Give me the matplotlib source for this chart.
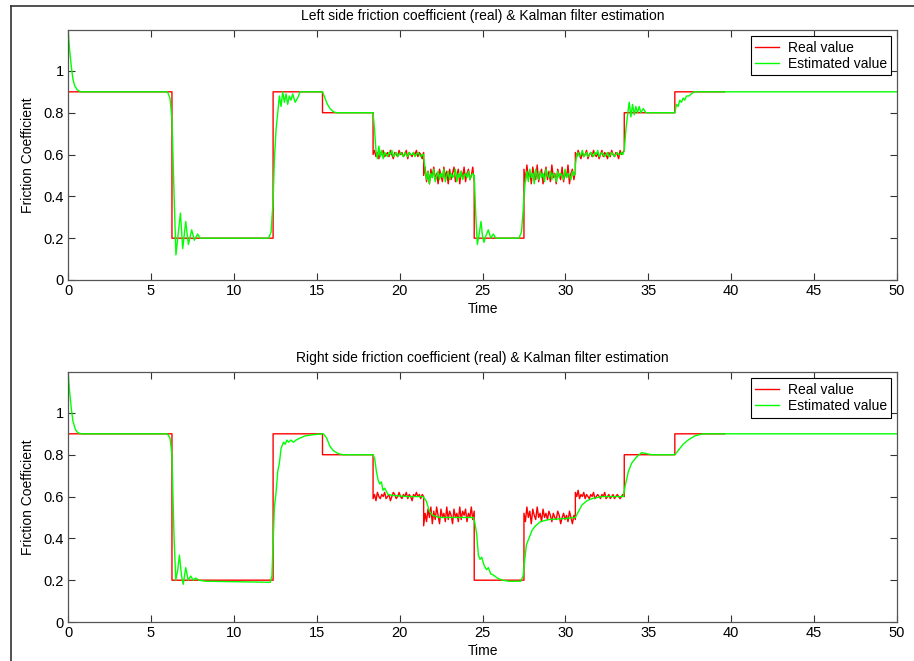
"""Friction coefficient (real) vs Kalman filter estimate, left and right side."""
import numpy as np
import matplotlib
matplotlib.use("Agg")
import matplotlib.pyplot as plt
from matplotlib.lines import Line2D

# step times of the real friction coefficient, shared by both sides
steps = [0, 6.27, 12.37, 15.35, 18.4, 21.45, 24.5, 27.5, 30.6, 33.55, 36.6, 39.6]
levels = [0.9, 0.2, 0.9, 0.8, 0.6, 0.5, 0.2, 0.5, 0.6, 0.8, 0.9]

# noisy stretches of the real value (segment index -> samples)
red_top_06a = [0.60, 0.62, 0.59, 0.61, 0.58, 0.61, 0.60, 0.62, 0.59, 0.60, 0.61, 0.59,
               0.62, 0.60, 0.58, 0.61, 0.60, 0.59, 0.62, 0.60, 0.61, 0.59, 0.60, 0.62,
               0.58, 0.61, 0.60, 0.59, 0.61, 0.60, 0.62, 0.59, 0.61, 0.60, 0.58, 0.61]
red_top_05a = [0.50, 0.54, 0.47, 0.52, 0.46, 0.53, 0.49, 0.54, 0.48, 0.51, 0.46, 0.53,
               0.50, 0.47, 0.54, 0.49, 0.52, 0.46, 0.53, 0.48, 0.51, 0.54, 0.47, 0.50,
               0.53, 0.46, 0.52, 0.49, 0.54, 0.47, 0.51, 0.53, 0.48, 0.50, 0.54, 0.47]
red_top_05b = [0.53, 0.47, 0.55, 0.49, 0.52, 0.46, 0.54, 0.50, 0.48, 0.55, 0.47, 0.51,
               0.53, 0.46, 0.50, 0.54, 0.48, 0.52, 0.47, 0.55, 0.49, 0.51, 0.46, 0.53,
               0.50, 0.48, 0.54, 0.47, 0.52, 0.49, 0.55, 0.46, 0.51, 0.53, 0.48, 0.52]
red_top_06b = [0.61, 0.59, 0.62, 0.60, 0.58, 0.61, 0.59, 0.60, 0.62, 0.58, 0.60, 0.61,
               0.59, 0.62, 0.60, 0.59, 0.61, 0.58, 0.60, 0.62, 0.59, 0.61, 0.60, 0.58,
               0.61, 0.59, 0.62, 0.60, 0.59, 0.61, 0.60, 0.58, 0.62, 0.60, 0.61, 0.62]
red_bot_06a = [0.59, 0.61, 0.58, 0.62, 0.60, 0.59, 0.61, 0.60, 0.62, 0.59, 0.60, 0.61,
               0.58, 0.60, 0.62, 0.61, 0.59, 0.60, 0.62, 0.60, 0.59, 0.61, 0.60, 0.62,
               0.59, 0.61, 0.60, 0.58, 0.61, 0.60, 0.62, 0.60, 0.61, 0.59, 0.61, 0.60]
red_bot_05a = [0.46, 0.52, 0.48, 0.54, 0.50, 0.55, 0.47, 0.53, 0.49, 0.55, 0.51, 0.47,
               0.54, 0.50, 0.52, 0.48, 0.55, 0.49, 0.53, 0.51, 0.47, 0.54, 0.50, 0.52,
               0.48, 0.55, 0.49, 0.53, 0.51, 0.54, 0.48, 0.52, 0.50, 0.55, 0.49, 0.53]
red_bot_05b = [0.52, 0.48, 0.55, 0.50, 0.53, 0.47, 0.54, 0.51, 0.49, 0.55, 0.50, 0.52,
               0.48, 0.54, 0.50, 0.52, 0.49, 0.53, 0.51, 0.48, 0.52, 0.50, 0.49, 0.53,
               0.51, 0.47, 0.50, 0.52, 0.49, 0.51, 0.48, 0.53, 0.50, 0.47, 0.51, 0.49]
red_bot_06b = [0.62, 0.60, 0.63, 0.59, 0.61, 0.60, 0.62, 0.59, 0.61, 0.60, 0.59, 0.61,
               0.60, 0.62, 0.59, 0.60, 0.61, 0.60, 0.59, 0.61, 0.60, 0.62, 0.59, 0.60,
               0.61, 0.59, 0.60, 0.61, 0.59, 0.60, 0.61, 0.60, 0.59, 0.60, 0.61, 0.60]
noisy_top = {4: red_top_06a, 5: red_top_05a, 7: red_top_05b, 8: red_top_06b}
noisy_bot = {4: red_bot_06a, 5: red_bot_05a, 7: red_bot_05b, 8: red_bot_06b}

# estimated value, left side: smooth parts as (t, v), noisy parts as samples
gl_t1 = [0, 0.1, 0.2, 0.3, 0.4, 0.55, 0.75, 6.0, 6.15, 6.27, 6.33, 6.4, 6.51,
         6.78, 6.92, 7.1, 7.26, 7.46, 7.62, 7.82, 7.96, 8.3, 12.1, 12.25, 12.37,
         12.45, 12.55, 12.65, 12.75, 12.85, 12.95, 13.05, 13.15, 13.25, 13.35, 13.45,
         13.55, 13.7, 13.85, 14.0, 14.2, 15.35, 15.5, 15.65, 15.8, 16.0, 16.2, 18.35]
gl_v1 = [1.2, 1.1, 1.02, 0.96, 0.93, 0.91, 0.9, 0.9, 0.87, 0.77, 0.6, 0.4, 0.12,
         0.32, 0.15, 0.28, 0.17, 0.24, 0.19, 0.22, 0.2, 0.2, 0.2, 0.23, 0.38,
         0.58, 0.72, 0.8, 0.88, 0.83, 0.9, 0.85, 0.89, 0.84, 0.88, 0.86,
         0.89, 0.85, 0.87, 0.9, 0.9, 0.9, 0.87, 0.84, 0.82, 0.805, 0.8, 0.8]
gl_06a = [0.80, 0.72, 0.62, 0.58, 0.64, 0.59, 0.62, 0.58, 0.61, 0.60, 0.59, 0.61,
          0.60, 0.62, 0.59, 0.60, 0.61, 0.59, 0.60, 0.61, 0.60, 0.59, 0.61, 0.60,
          0.59, 0.61, 0.60, 0.60, 0.61, 0.59, 0.60, 0.61, 0.60, 0.59, 0.60, 0.60]
gl_05a = [0.59, 0.53, 0.48, 0.52, 0.46, 0.51, 0.49, 0.53, 0.47, 0.50, 0.52, 0.48,
          0.51, 0.49, 0.53, 0.47, 0.50, 0.52, 0.48, 0.51, 0.49, 0.50, 0.53, 0.47,
          0.51, 0.49, 0.52, 0.48, 0.50, 0.51, 0.49, 0.52, 0.48, 0.50, 0.51, 0.49]
gl_t2 = [24.5, 24.6, 24.69, 24.8, 24.91, 25.0, 25.09, 25.2, 25.35, 25.5, 25.65,
         25.8, 25.95, 27.2, 27.35, 27.45]
gl_v2 = [0.5, 0.3, 0.17, 0.22, 0.28, 0.21, 0.18, 0.21, 0.24, 0.2, 0.22,
         0.2, 0.2, 0.2, 0.23, 0.33]
gl_05b = [0.40, 0.48, 0.52, 0.47, 0.53, 0.49, 0.51, 0.46, 0.53, 0.50, 0.48, 0.52,
          0.49, 0.51, 0.47, 0.53, 0.50, 0.49, 0.52, 0.48, 0.51, 0.50, 0.47, 0.52,
          0.49, 0.51, 0.50, 0.48, 0.53, 0.49, 0.51, 0.50, 0.48, 0.52, 0.50, 0.51]
gl_06b = [0.55, 0.60, 0.61, 0.59, 0.60, 0.62, 0.59, 0.60, 0.61, 0.59, 0.60, 0.61,
          0.60, 0.59, 0.61, 0.60, 0.62, 0.59, 0.60, 0.61, 0.60, 0.59, 0.60, 0.61,
          0.59, 0.60, 0.61, 0.60, 0.59, 0.60, 0.61, 0.60, 0.60, 0.61, 0.60, 0.62]
gl_t3 = [33.55, 33.65, 33.75, 33.85, 33.95, 34.05, 34.15, 34.25, 34.35, 34.45, 34.55,
         34.7, 34.85, 35.0, 36.6, 36.7, 36.8, 36.9, 37.0, 37.1, 37.2, 37.3, 37.45,
         37.6, 37.75, 50]
gl_v3 = [0.62, 0.72, 0.79, 0.85, 0.78, 0.84, 0.79, 0.83, 0.80, 0.83, 0.80,
         0.82, 0.80, 0.80, 0.80, 0.84, 0.83, 0.86, 0.85, 0.87, 0.86, 0.88, 0.88,
         0.89, 0.9, 0.9]

# estimated value, right side (smooth all the way)
gr_t = [0, 0.1, 0.2, 0.3, 0.45, 0.6, 0.8, 6.0, 6.15, 6.27, 6.33, 6.4, 6.5, 6.62,
        6.72, 6.85, 6.95, 7.1, 7.25, 7.4, 7.55, 7.7, 7.9, 8.3, 12.2, 12.3, 12.37,
        12.45, 12.55, 12.65, 12.75, 12.85, 13.0, 13.1, 13.2, 13.3, 13.45, 13.6,
        13.75, 14.0, 14.3, 14.7, 15.3, 15.4, 15.6, 15.8, 16.0, 16.3, 16.6, 18.4,
        18.5, 18.6, 18.7, 18.8, 18.9, 19.0, 19.1, 19.3, 19.6, 20.5, 21.4, 21.6,
        21.8, 22.0, 22.4, 24.45, 24.55, 24.65, 24.75, 24.85, 24.95, 25.1, 25.25,
        25.35, 25.5, 25.65, 25.9, 26.2, 26.6, 27.3, 27.45, 27.55, 27.65, 27.8,
        28.0, 28.2, 28.5, 29.0, 30.0, 30.6, 30.8, 31.0, 31.3, 31.6, 32.2, 33.5,
        33.6, 33.8, 34.0, 34.3, 34.6, 35.2, 36.6, 36.8, 37.1, 37.4, 37.8, 38.3, 50]
gr_v = [1.2, 1.1, 1.02, 0.96, 0.92, 0.905, 0.9, 0.9, 0.88, 0.8, 0.6, 0.4, 0.2, 0.25,
        0.32, 0.22, 0.18, 0.26, 0.2, 0.22, 0.2, 0.21, 0.2, 0.195, 0.19, 0.22, 0.38,
        0.55, 0.62, 0.72, 0.76, 0.83, 0.86, 0.85, 0.87, 0.86, 0.87, 0.86,
        0.87, 0.88, 0.89, 0.895, 0.9, 0.9, 0.88, 0.84, 0.82, 0.805, 0.8, 0.8,
        0.78, 0.72, 0.68, 0.66, 0.67, 0.63, 0.64, 0.61, 0.605, 0.6, 0.6, 0.58,
        0.53, 0.51, 0.5, 0.5, 0.47, 0.42, 0.32, 0.3, 0.31, 0.27, 0.25,
        0.26, 0.23, 0.225, 0.21, 0.2, 0.195, 0.195, 0.22, 0.3, 0.37, 0.4,
        0.44, 0.46, 0.48, 0.49, 0.495, 0.5, 0.53, 0.56, 0.58, 0.59, 0.6, 0.6,
        0.65, 0.72, 0.76, 0.79, 0.81, 0.8, 0.8, 0.82, 0.85, 0.87, 0.89, 0.9, 0.9]


def real_series(noisy):
    t, v = [], []
    for i, lev in enumerate(levels):
        t0, t1 = steps[i], steps[i + 1]
        if i in noisy:
            vals = noisy[i]
            t += list(np.linspace(t0, t1, len(vals)))
            v += list(vals)
        else:
            t += [t0, t1]
            v += [lev, lev]
    return np.array(t), np.array(v)


def pieces(*parts):
    t, v = [], []
    for p in parts:
        if len(p) == 3:  # (t0, t1, samples)
            t += list(np.linspace(p[0], p[1], len(p[2])))
            v += list(p[2])
        else:
            t += list(p[0])
            v += list(p[1])
    return np.array(t), np.array(v)


gl = pieces((gl_t1, gl_v1), (steps[4], steps[5], gl_06a), (steps[5], steps[6], gl_05a),
            (gl_t2, gl_v2), (steps[7], steps[8], gl_05b), (steps[8], steps[9], gl_06b),
            (gl_t3, gl_v3))
gr = (np.array(gr_t), np.array(gr_v))

plt.rcParams.update({"font.family": ["Liberation Sans", "DejaVu Sans"], "font.size": 10})
fig = plt.figure(figsize=(9.14, 6.61), dpi=100)

panels = [
    ([0.0744, 0.5764, 0.907, 0.378], real_series(noisy_top), gl,
     "Left side friction coefficient (real) & Kalman filter estimation"),
    ([0.0744, 0.0590, 0.907, 0.378], real_series(noisy_bot), gr,
     "Right side friction coefficient (real) & Kalman filter estimation"),
]
for rect, red, green, title in panels:
    ax = fig.add_axes(rect)
    ax.plot(red[0], red[1], color="#ff0000", lw=1.0, label="Real value")
    ax.plot(green[0], green[1], color="#00ff00", lw=1.0, label="Estimated value")
    ax.set_xlim(0, 50)
    ax.set_ylim(0, 1.195)
    ax.set_xticks(np.arange(0, 51, 5))
    ax.set_yticks([0, 0.2, 0.4, 0.6, 0.8, 1])
    ax.set_yticklabels(["0", "0.2", "0.4", "0.6", "0.8", "1"])
    ax.tick_params(direction="in", top=True, right=True, length=5, width=0.8,
                   colors="#333333", labelcolor="black", pad=3, labelsize=10.5)
    for s in ax.spines.values():
        s.set_color("#555555")
        s.set_linewidth(0.9)
    ax.set_title(title, fontsize=10, pad=7)
    ax.set_xlabel("Time", labelpad=3)
    ax.set_ylabel("Friction Coefficient", labelpad=6)
    leg = ax.legend(loc="upper right", bbox_to_anchor=(0.993, 0.975), fancybox=False,
                    edgecolor="black", framealpha=1, handlelength=1.7, borderpad=0.3,
                    labelspacing=0.2, handletextpad=0.65, borderaxespad=0)
    leg.get_frame().set_linewidth(0.8)

# outer frame of the original screenshot
fig.add_artist(Line2D([11 / 914, 11 / 914], [0, 1 - 6 / 661], color="#333333", lw=1.2))
fig.add_artist(Line2D([11 / 914, 1], [1 - 6 / 661, 1 - 6 / 661], color="#333333", lw=1.2))

fig.savefig("out.png", dpi=100)
